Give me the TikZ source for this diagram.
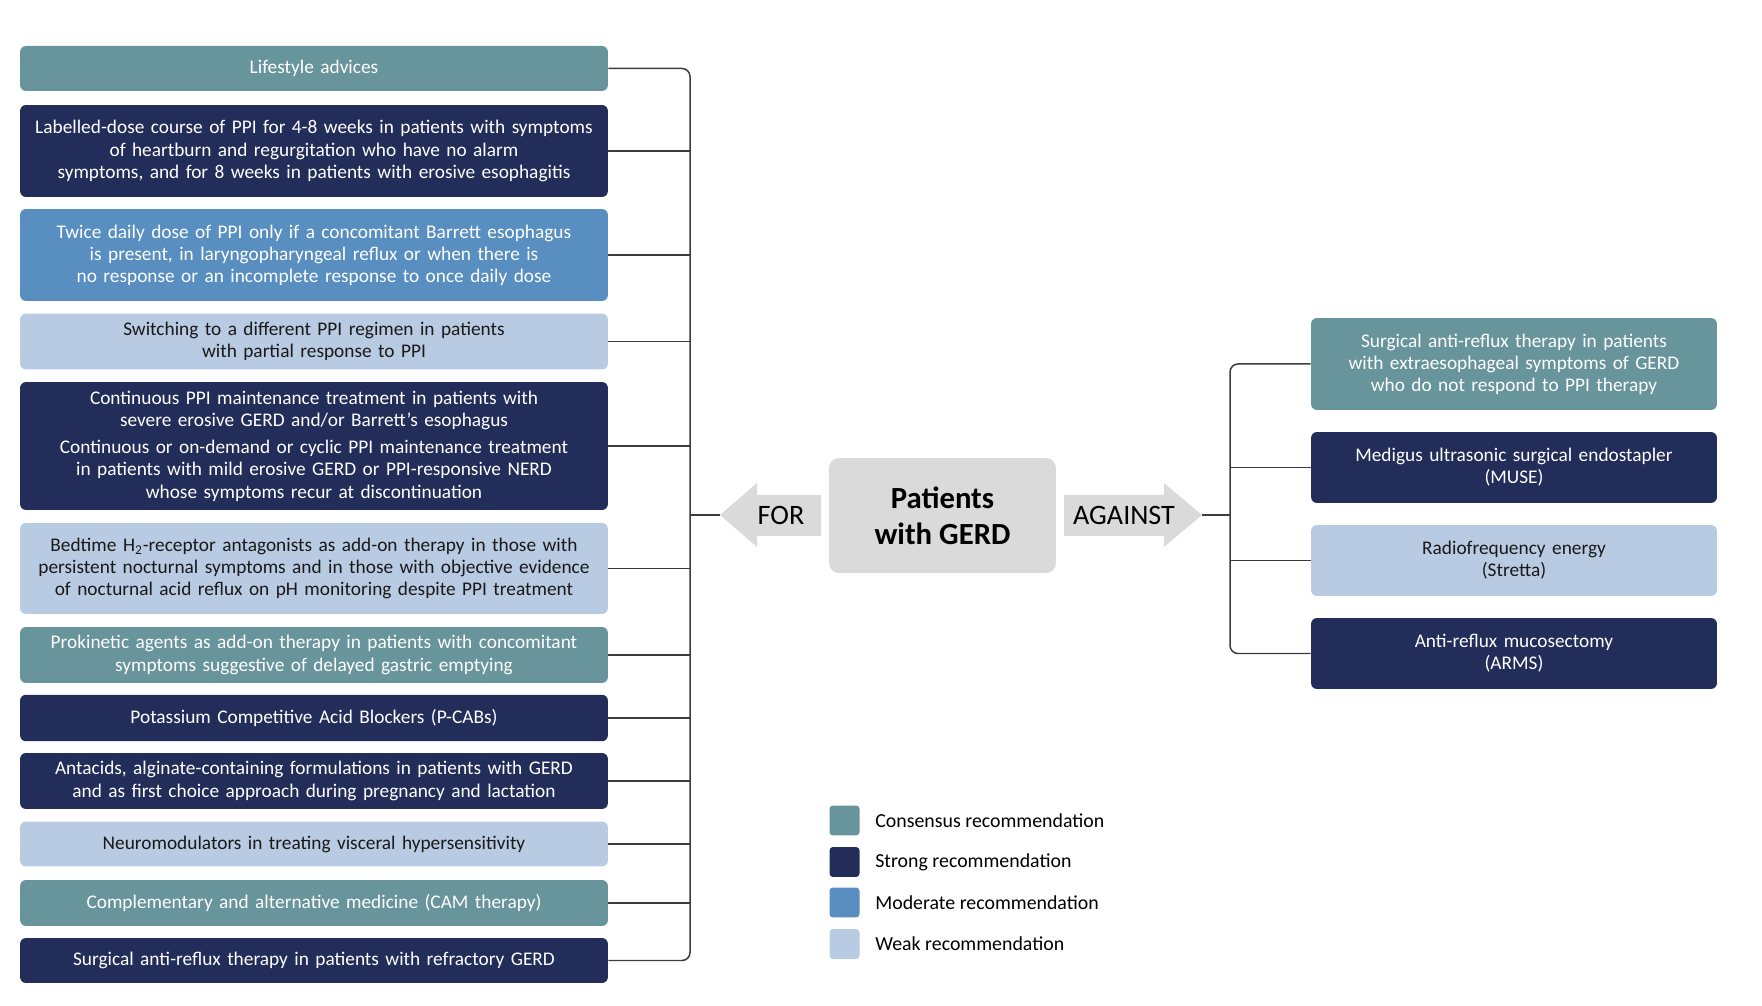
\documentclass[tikz,border=0pt]{standalone}
\usepackage{fontspec}
\setmainfont{Carlito}
\usetikzlibrary{positioning}
\definecolor{consensus}{HTML}{68949C}
\definecolor{strongblue}{HTML}{222D59}
\definecolor{moderate}{HTML}{588EC0}
\definecolor{weak}{HTML}{B9CBE3}
\definecolor{hubgray}{HTML}{DADADA}
\definecolor{wire}{HTML}{3C3C3C}
\tikzset{
  rec/.style={rounded corners=0.12cm, align=center, inner sep=0pt,
    font=\fontsize{11}{12.6}\selectfont},
  leftrec/.style={rec, minimum width=11.76cm, text width=11.7cm},
  rightrec/.style={rec, minimum width=8.12cm, text width=8cm},
  cons/.style={fill=consensus, text=white},
  strongrec/.style={fill=strongblue, text=white},
  modrec/.style={fill=moderate, text=white},
  weakrec/.style={fill=weak, text=black!90},
  wireline/.style={draw=wire, line width=0.85pt},
  keybox/.style={minimum size=0.6cm, rounded corners=0.07cm, inner sep=0pt},
  keytext/.style={anchor=west, inner sep=0pt, font=\fontsize{11.3}{13}\selectfont},
}
\begin{document}
\begin{tikzpicture}[x=0.02cm, y=-0.02cm]
    \useasboundingbox (0,0) rectangle (1762,1006);
    % FOR side
    \node[leftrec, cons, minimum height=0.90cm] (life) at (314,68.5) {Lifestyle advices};
    \node[leftrec, strongrec, minimum height=1.84cm] (dose) at (314,151) {Labelled-dose course of PPI for 4-8 weeks in patients with symptoms\\of heartburn and regurgitation who have no alarm\\symptoms, and for 8 weeks in patients with erosive esophagitis};
    \node[leftrec, modrec, minimum height=1.84cm] (twice) at (314,255) {Twice daily dose of PPI only if a concomitant Barrett esophagus\\is present, in laryngopharyngeal reflux or when there is\\no response or an incomplete response to once daily dose};
    \node[leftrec, weakrec, minimum height=1.12cm] (switch) at (314,341.5) {Switching to a different PPI regimen in patients\\with partial response to PPI};
    \node[leftrec, strongrec, minimum height=2.56cm] (maint) at (314,446) {Continuous PPI maintenance treatment in patients with\\severe erosive GERD and/or Barrett’s esophagus\\[3pt]Continuous or on-demand or cyclic PPI maintenance treatment\\in patients with mild erosive GERD or PPI-responsive NERD\\whose symptoms recur at discontinuation};
    \node[leftrec, weakrec, minimum height=1.82cm] (htwo) at (314,568.5) {Bedtime H\textsubscript{2}-receptor antagonists as add-on therapy in those with\\persistent nocturnal symptoms and in those with objective evidence\\of nocturnal acid reflux on pH monitoring despite PPI treatment};
    \node[leftrec, cons, minimum height=1.12cm] (prokin) at (314,655) {Prokinetic agents as add-on therapy in patients with concomitant\\symptoms suggestive of delayed gastric emptying};
    \node[leftrec, strongrec, minimum height=0.93cm] (pcab) at (314,718) {Potassium Competitive Acid Blockers (P-CABs)};
    \node[leftrec, strongrec, minimum height=1.12cm] (antac) at (314,781) {Antacids, alginate-containing formulations in patients with GERD\\and as first choice approach during pregnancy and lactation};
    \node[leftrec, weakrec, minimum height=0.90cm] (neuro) at (314,844) {Neuromodulators in treating visceral hypersensitivity};
    \node[leftrec, cons, minimum height=0.92cm] (cam) at (314,903) {Complementary and alternative medicine (CAM therapy)};
    \node[leftrec, strongrec, minimum height=0.90cm] (surg) at (314,960.5) {Surgical anti-reflux therapy in patients with refractory GERD};

    % centre and the two arrows
    \node[fill=hubgray, rounded corners=0.2cm, minimum width=4.54cm, minimum height=2.30cm,
      align=center, font=\bfseries\fontsize{17.5}{20.5}\selectfont] (hub) at (942.5,515.5) {Patients\\with GERD};
    \coordinate (fortip) at (720,515);
    \coordinate (againsttip) at (1202,515);
    \fill[hubgray] (fortip) -- (757,483) -- (757,495) -- (821,495) -- (821,536) -- (757,536) -- (757,547) -- cycle;
    \fill[hubgray] (againsttip) -- (1164,483) -- (1164,495) -- (1064,495) -- (1064,536) -- (1164,536) -- (1164,547) -- cycle;
    \node[font=\fontsize{16}{16}\selectfont, inner sep=0pt] (forlbl) at (781,515) {FOR};
    \node[font=\fontsize{16}{16}\selectfont, inner sep=0pt] (againstlbl) at (1124,515) {AGAINST};

    % AGAINST side
    \node[rightrec, cons, minimum height=1.84cm] (extra) at (1514,364) {Surgical anti-reflux therapy in patients\\with extraesophageal symptoms of GERD\\who do not respond to PPI therapy};
    \node[rightrec, strongrec, minimum height=1.42cm] (muse) at (1514,467.5) {Medigus ultrasonic surgical endostapler\\(MUSE)};
    \node[rightrec, weakrec, minimum height=1.42cm] (stretta) at (1514,560.5) {Radiofrequency energy\\(Stretta)};
    \node[rightrec, strongrec, minimum height=1.42cm] (arms) at (1514,653.5) {Anti-reflux mucosectomy\\(ARMS)};

    % brackets
    \coordinate (lbar) at (690,0);
    \coordinate (rbar) at (1230,0);
    \draw[wireline, rounded corners=0.16cm] (life.east) -- (life.east -| lbar) -- (surg.east -| lbar) -- (surg.east);
    \foreach \n in {dose,twice,switch,maint,htwo,prokin,pcab,antac,neuro,cam}
        \draw[wireline] (\n.east) -- (\n.east -| lbar);
    \draw[wireline] (fortip) -- (fortip -| lbar);
    \draw[wireline, rounded corners=0.16cm] (extra.west) -- (extra.west -| rbar) -- (arms.west -| rbar) -- (arms.west);
    \foreach \n in {muse,stretta}
        \draw[wireline] (\n.west) -- (\n.west -| rbar);
    \draw[wireline] (againsttip) -- (againsttip -| rbar);

    % legend
    \node[keybox, fill=consensus] (kcons) at (844.5,820.5) {};
    \node[keybox, fill=strongblue] (kstrong) at (844.5,862) {};
    \node[keybox, fill=moderate] (kmod) at (844.5,902.5) {};
    \node[keybox, fill=weak] (kweak) at (844.5,944) {};
    \node[keytext] at (875,820.5) {Consensus recommendation};
    \node[keytext] at (875,862) {Strong recommendation};
    \node[keytext] at (875,902.5) {Moderate recommendation};
    \node[keytext] at (875,944) {Weak recommendation};
\end{tikzpicture}
\end{document}
